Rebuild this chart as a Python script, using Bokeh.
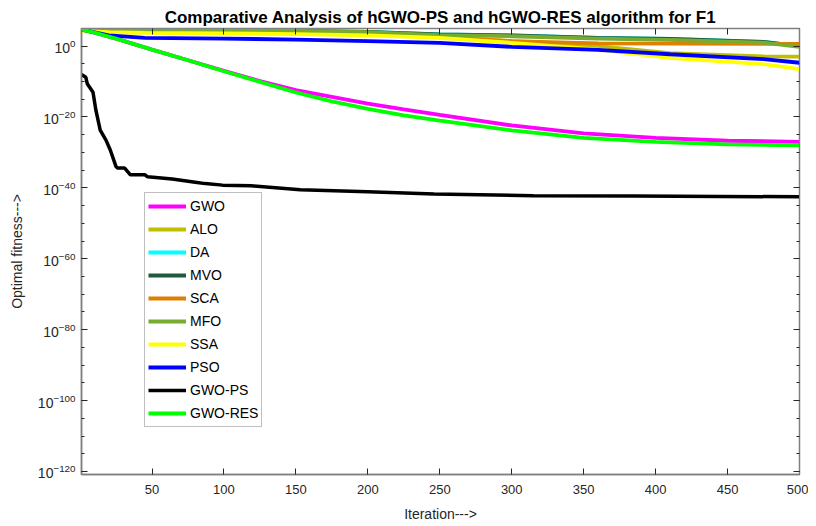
from bokeh.plotting import figure
from bokeh.models import (Range1d, FixedTicker, LogAxis, LinearAxis, Legend, LegendItem,
                          LogTickFormatter, CustomJSTickFormatter)
from bokeh.embed import file_html
from bokeh.resources import INLINE

# ---- data ----
iters_gwo = [1, 10, 25, 50, 75, 100, 125, 150, 175, 200, 225, 250, 300, 350, 400, 450, 500]
gwo = [5e4, 6e3, 1.3e2, 1e-1, 1e-4, 1e-7, 1.3e-10, 4e-13, 5e-15, 6e-17, 1.3e-18, 4e-20,
       4e-23, 2.5e-25, 1.3e-26, 2e-27, 1e-27]
gwo_res = [5e4, 6e3, 1.3e2, 1e-1, 1e-4, 8e-8, 8e-11, 8e-14, 2.5e-16, 2e-18, 3e-20, 1e-21,
           1.6e-24, 1.3e-26, 1e-27, 2e-28, 1e-28]

iters_top = [1, 20, 45, 100, 150, 200, 250, 300, 360, 410, 475, 500]
alo = [6e4, 4e4, 2.5e4, 1.3e4, 6e3, 2.5e3, 4e2, 2.5e1, 1, 1e-2, 1.3e-3, 1e-3]
da = [1e5, 8e4, 6e4, 4e4, 2e4, 1e4, 2e3, 1e3, 2e2, 1e2, 1.6e1, 1]
mvo = [1e5, 8e4, 6e4, 4e4, 2e4, 1e4, 2e3, 1e3, 2e2, 1e2, 1.6e1, 1]
sca = [1e5, 1e5, 1e5, 6e4, 2e4, 6e3, 3e2, 2.5e1, 6, 5, 4, 4]
mfo = [9e4, 7e4, 5e4, 3e4, 1.6e4, 8e3, 1.3e3, 6e2, 1.3e2, 6e1, 1e1, 6e-1]
ssa = [1.6e4, 8e3, 5e3, 3.5e3, 2.5e3, 1e3, 2e2, 8, 1e-1, 5e-4, 8e-6, 3e-7]
pso = [4.5e4, 1e3, 2e2, 1.3e2, 7e1, 2.5e1, 8, 6e-1, 8e-2, 5e-3, 2e-4, 2e-5]

iters_ps = [1, 4, 5, 9, 11, 14, 18, 21, 25, 26, 31, 35, 45, 47, 64, 80, 87, 99, 119, 153,
            200, 246, 315, 385, 445, 500]
gwo_ps = [1e-8, 1.6e-9, 2.5e-11, 1e-13, 8e-19, 2e-24, 3e-27, 5e-30, 1e-34, 4e-35, 4e-35,
          5e-37, 5e-37, 1.3e-37, 3e-38, 4e-39, 1.6e-39, 6e-40, 4e-40, 3e-41, 8e-42, 2e-42,
          6e-43, 5e-43, 4e-43, 3e-43]

series = [
    ("GWO", iters_gwo, gwo, "#ff00ff", 3.8),
    ("ALO", iters_top, alo, "#bfbf00", 3.8),
    ("DA", iters_top, da, "#00ffff", 3.8),
    ("MVO", iters_top, mvo, "#1e5a3c", 3.8),
    ("SCA", iters_top, sca, "#e08000", 3.8),
    ("MFO", iters_top, mfo, "#77ac30", 3.8),
    ("SSA", iters_top, ssa, "#ffff00", 3.8),
    ("PSO", iters_top, pso, "#0000ff", 3.8),
    ("GWO-PS", iters_ps, gwo_ps, "#000000", 3.5),
    ("GWO-RES", iters_gwo, gwo_res, "#00ff00", 3.8),
]

x_ticks = [50, 100, 150, 200, 250, 300, 350, 400, 450, 500]
y_major = [10.0 ** e for e in range(-120, 1, 20)]
y_minor = [10.0 ** e for e in range(-120, 6, 5)]

FONT = "Liberation Sans"
AXC = "#808080"
TXT = "#262626"

p = figure(width=808, height=518, y_axis_type="log", output_backend="svg",
           toolbar_location=None, x_range=Range1d(1, 500),
           y_range=Range1d(10 ** -120.85, 10 ** 4.96),
           title="Comparative Analysis of hGWO-PS and hGWO-RES algorithm for F1")
p.frame_width = 718
p.frame_height = 446
p.min_border_left = 81
p.min_border_right = 9
p.min_border_top = 28
p.min_border_bottom = 44
p.background_fill_color = "white"
p.border_fill_color = "white"
p.outline_line_color = AXC
p.outline_line_width = 1.5
p.grid.visible = False

p.title.align = "center"
p.title.text_font = FONT
p.title.text_font_size = "17px"
p.title.text_font_style = "bold"
p.title.text_color = "#000000"
p.title.standoff = 4

xa = p.xaxis[0]
xa.ticker = FixedTicker(ticks=x_ticks)
xa.axis_label = "Iteration--->"
ya = p.yaxis[0]
ya.ticker = FixedTicker(ticks=y_major, minor_ticks=y_minor)
ya.formatter = LogTickFormatter()
ya.axis_label = "Optimal fitness--->"

for ax in (xa, ya):
    ax.axis_line_color = AXC
    ax.axis_line_width = 1.5
    ax.major_tick_line_color = "#262626"
    ax.minor_tick_line_color = "#262626"
    ax.major_tick_in = 6
    ax.major_tick_out = 0
    ax.minor_tick_in = 3
    ax.minor_tick_out = 0
    ax.major_label_text_font = FONT
    ax.major_label_text_font_size = "13px"
    ax.major_label_text_color = TXT
    ax.axis_label_text_font = FONT
    ax.axis_label_text_font_size = "14px"
    ax.axis_label_text_font_style = "normal"
    ax.axis_label_text_color = TXT
ya.major_label_text_font_size = "14px"
xa.minor_tick_in = 0
xa.major_label_standoff = 10
xa.axis_label_standoff = 9
ya.major_label_standoff = 6
ya.axis_label_standoff = 10

# box ticks on top and right (no labels)
top = LinearAxis(ticker=FixedTicker(ticks=x_ticks), formatter=CustomJSTickFormatter(code="return ''"),
                 major_tick_in=6, major_tick_out=0, minor_tick_in=0, minor_tick_out=0,
                 axis_line_color=AXC, major_tick_line_color="#262626", major_label_standoff=0)
right = LogAxis(ticker=FixedTicker(ticks=y_major, minor_ticks=y_minor),
                formatter=CustomJSTickFormatter(code="return ''"),
                major_tick_in=6, major_tick_out=0,
                minor_tick_in=3, minor_tick_out=0, axis_line_color=AXC,
                major_tick_line_color="#262626", minor_tick_line_color="#262626",
                major_label_standoff=0)
p.add_layout(top, "above")
p.add_layout(right, "right")

items = []
for name, xs, ys, col, lw in series:
    r = p.line(xs, ys, line_color=col, line_width=lw)
    items.append(LegendItem(label=name, renderers=[r]))

leg = Legend(items=items, location=(63, 47))
leg.glyph_width = 38
leg.glyph_height = 20
leg.label_height = 20
leg.spacing = 3
leg.padding = 3
leg.margin = 0
leg.label_standoff = 4
leg.label_text_font = FONT
leg.label_text_font_size = "14px"
leg.label_text_color = "#000000"
leg.border_line_color = AXC
leg.border_line_width = 1
leg.background_fill_color = "white"
leg.background_fill_alpha = 1
p.add_layout(leg, "center")

open("out.html", "w").write(file_html(p, INLINE))
